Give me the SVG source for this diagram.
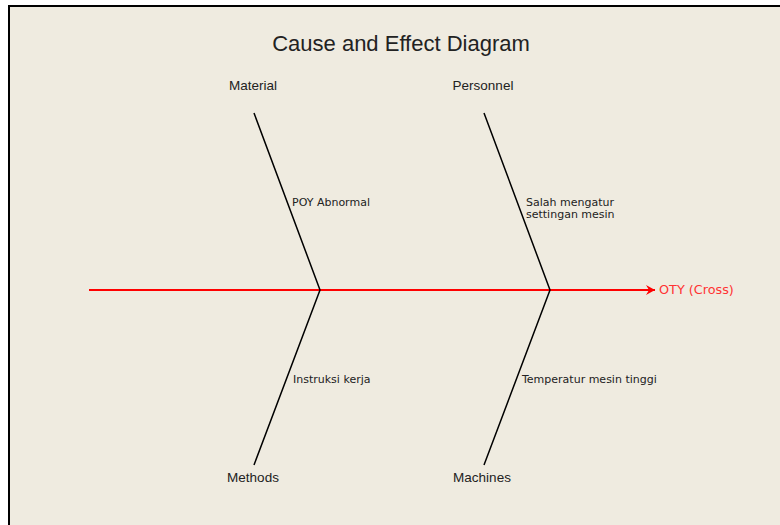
<svg xmlns="http://www.w3.org/2000/svg" width="780" height="525" viewBox="0 0 780 525">
<style>
.t{font-family:"Liberation Sans",Arial,sans-serif;fill:#222}
.cat{font-size:13.5px;text-anchor:middle}
.c{font-family:"DejaVu Sans",Verdana,sans-serif;font-size:11px;fill:#222}
.bone{stroke:#000;stroke-width:1.5;fill:none}
</style>
<defs>
<marker id="ah" markerWidth="10" markerHeight="10" refX="9" refY="5" orient="auto" markerUnits="userSpaceOnUse">
<path d="M0,0 L9,5 L0,10 L3,5 Z" fill="#f00"/>
</marker>
</defs>
<rect x="0" y="0" width="780" height="525" fill="#fff"/>
<rect x="9" y="6" width="775" height="525" fill="#efebe0" stroke="#000" stroke-width="2"/>
<text class="t" x="401" y="51" font-size="22" text-anchor="middle">Cause and Effect Diagram</text>
<g id="connectors">
<line x1="89" y1="290" x2="655" y2="290" stroke="#f00" stroke-width="2" marker-end="url(#ah)"/>
<polyline class="bone" points="254,113 320,290 254,465"/>
<polyline class="bone" points="484,113 550,290 484,465"/>
</g>
<g id="effect"><text class="c" x="659" y="294" style="fill:#f33;font-size:12.8px">OTY (Cross)</text></g>
<g id="material"><text class="t cat" x="253" y="90">Material</text><text class="c" x="292" y="206">POY Abnormal</text></g>
<g id="personnel"><text class="t cat" x="483" y="90">Personnel</text><text class="c" x="526" y="206">Salah mengatur</text><text class="c" x="526" y="218">settingan mesin</text></g>
<g id="methods"><text class="t cat" x="253" y="482">Methods</text><text class="c" x="293" y="383">Instruksi kerja</text></g>
<g id="machines"><text class="t cat" x="482" y="482">Machines</text><text class="c" x="522" y="383">Temperatur mesin tinggi</text></g>
</svg>
